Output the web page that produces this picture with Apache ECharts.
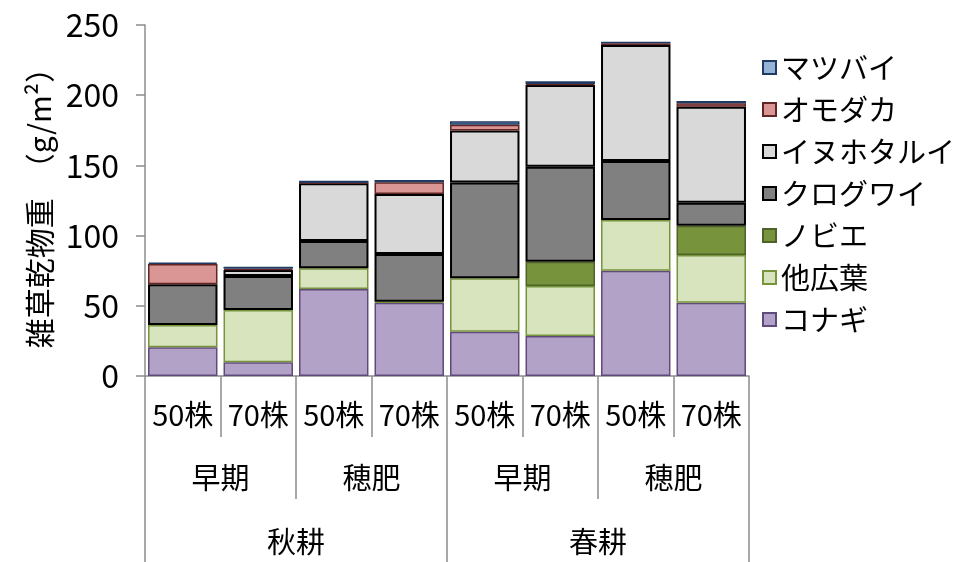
<!DOCTYPE html>
<html>
<head>
<meta charset="utf-8">
<script src="https://cdn.jsdelivr.net/npm/echarts@6/dist/echarts.min.js"></script>
<style>
  html, body { margin: 0; padding: 0; background: #fff; }
  #chart { width: 980px; height: 562px; }
</style>
</head>
<body>
<div id="chart"></div>
<script>
// 区分ラベル
const kabu = ['50株', '70株', '50株', '70株', '50株', '70株', '50株', '70株'];
const sehi = ['早期', '穂肥', '早期', '穂肥'];
const kouun = ['秋耕', '春耕'];

// 雑草乾物重 (g/m2)
const konagi   = [20.4, 9.8, 62, 52.2, 31.5, 28.5, 75, 52.2];
const takouyou = [15.9, 37.2, 14.7, 0.7, 38.1, 35.6, 36.1, 34];
const nobie    = [0, 0, 0, 0, 0, 17.3, 0, 20.8];
const kurogu   = [29, 24.2, 19.5, 34, 68.2, 67.7, 42, 16.4];
const inuhota  = [0, 4.3, 41, 42.7, 37.1, 58.2, 82.7, 68.4];
const omodaka  = [14.5, 0.8, 0.3, 8.4, 4.1, 0.7, 1.2, 2.4];
const matsubai = [1, 1.5, 1.5, 1.6, 2.5, 2, 1.1, 1.7];

const yTicks = [0, 50, 100, 150, 200, 250];

const FONT = "'Noto Sans CJK JP', sans-serif";
const axisGray = '#8c8c8c';

const chart = echarts.init(document.getElementById('chart'));

function bar(name, data, fill, border, bw) {
  return {
    name: name,
    type: 'bar',
    stack: 'total',
    yAxisIndex: 0,
    data: data.map(v => (v === 0 ? null : v)),
    barCategoryGap: '8%',
    itemStyle: { color: fill, borderColor: border, borderWidth: bw },
    emphasis: { disabled: true }
  };
}

function tick(len) {
  return { show: true, inside: false, length: len, interval: 0,
           lineStyle: { color: axisGray, width: 1.5 } };
}

const option = {
  animation: false,
  textStyle: { fontFamily: FONT, color: '#000' },
  grid: { left: 145, right: 231, top: 25, bottom: 186 },
  legend: {
    orient: 'vertical',
    left: 757,
    top: 48,
    icon: 'rect',
    itemWidth: 13,
    itemHeight: 13,
    itemGap: 13,
    textStyle: { fontFamily: FONT, fontSize: 29, color: '#000' },
    data: ['マツバイ', 'オモダカ', 'イヌホタルイ', 'クログワイ', 'ノビエ', '他広葉', 'コナギ']
  },
  yAxis: [
    {
      type: 'value',
      position: 'left',
      min: yTicks[0],
      max: yTicks[yTicks.length - 1],
      interval: 50,
      name: '雑草乾物重　（g/m²）',
      nameLocation: 'middle',
      nameRotate: 90,
      nameGap: 86,
      nameTextStyle: { fontFamily: FONT, fontSize: 30, color: '#000' },
      axisLine: { show: true, lineStyle: { color: axisGray, width: 1.5 } },
      axisTick: tick(9),
      axisLabel: { fontSize: 32, color: '#000', margin: 26, fontFamily: FONT },
      splitLine: { show: false }
    },
    {
      // 目盛り線だけの補助軸
      type: 'value',
      position: 'left',
      offset: 0,
      min: yTicks[0],
      max: yTicks[yTicks.length - 1],
      interval: 50,
      axisLine: { show: false },
      axisTick: tick(9),
      axisLabel: { show: false },
      splitLine: { show: false }
    }
  ],
  xAxis: [
    {
      type: 'category',
      data: kabu,
      position: 'bottom',
      axisLine: { show: true, lineStyle: { color: axisGray, width: 1.5 } },
      axisTick: tick(61),
      axisLabel: { interval: 0, fontSize: 29, color: '#000', margin: 24, fontFamily: FONT }
    },
    {
      type: 'category',
      data: sehi,
      position: 'bottom',
      axisLine: { show: false },
      axisTick: tick(123),
      axisLabel: { interval: 0, fontSize: 29, color: '#000', margin: 87, fontFamily: FONT }
    },
    {
      type: 'category',
      data: kouun,
      position: 'bottom',
      axisLine: { show: false },
      axisTick: tick(190),
      axisLabel: { interval: 0, fontSize: 29, color: '#000', margin: 151, fontFamily: FONT }
    }
  ],
  series: [
    bar('コナギ', konagi, '#b3a2c7', '#604a7b', 1.5),
    bar('他広葉', takouyou, '#d7e4bd', '#77933c', 1.5),
    bar('ノビエ', nobie, '#77933c', '#4f6228', 1.5),
    bar('クログワイ', kurogu, '#808080', '#000000', 2),
    bar('イヌホタルイ', inuhota, '#d9d9d9', '#000000', 2),
    bar('オモダカ', omodaka, '#d99694', '#632523', 1.5),
    bar('マツバイ', matsubai, '#95b3d7', '#1f3b63', 1.5)
  ]
};

chart.setOption(option);
</script>
</body>
</html>
